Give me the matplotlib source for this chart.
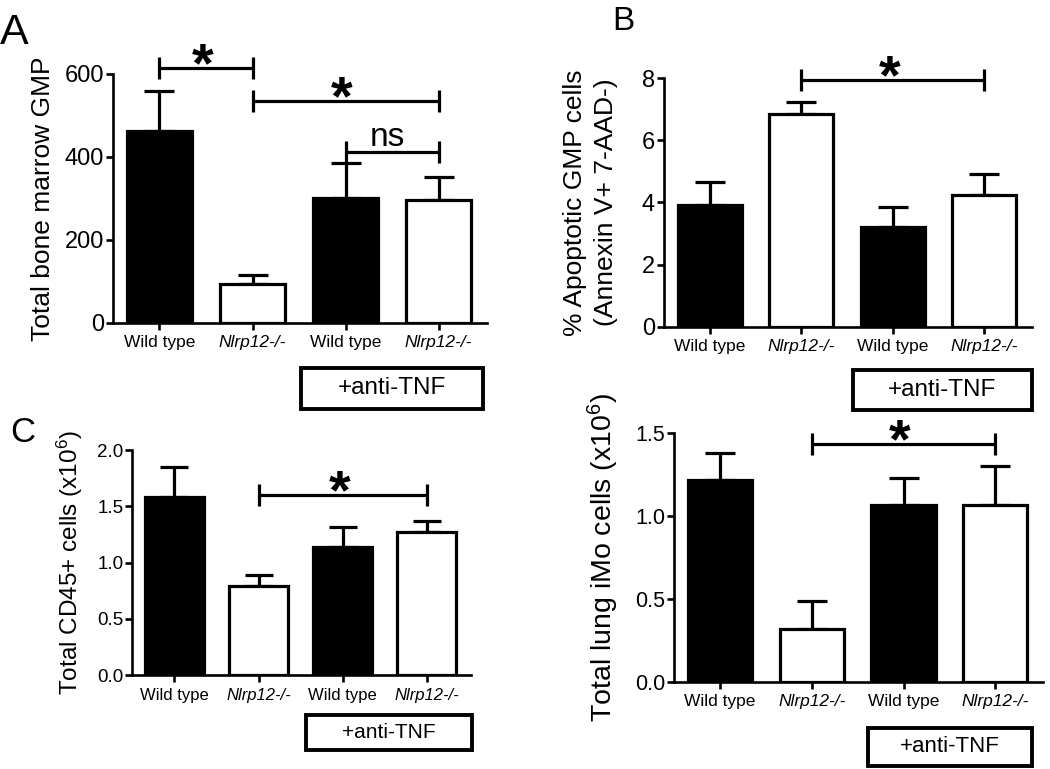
import matplotlib
matplotlib.use('Agg')
import matplotlib.pyplot as plt
from matplotlib.patches import Rectangle

plt.rcParams['font.family'] = ['Liberation Sans', 'DejaVu Sans']
plt.rcParams['mathtext.default'] = 'regular'

# Data
groups = ['Wild type', 'Nlrp12-/-', 'Wild type', 'Nlrp12-/-']
fills = ['black', 'white', 'black', 'white']

gmp_mean = [463, 94, 300, 296]
gmp_err = [97, 21, 85, 56]

apop_mean = [3.92, 6.84, 3.22, 4.24]
apop_err = [0.75, 0.39, 0.64, 0.67]

cd45_mean = [1.58, 0.79, 1.14, 1.27]
cd45_err = [0.27, 0.10, 0.18, 0.10]

imo_mean = [1.22, 0.32, 1.07, 1.07]
imo_err = [0.16, 0.17, 0.16, 0.23]

# significance brackets: (from, to, height, label)
gmp_sig = [(0, 1, 615, '*'), (1, 3, 535, '*'), (2, 3, 412, 'ns')]
apop_sig = [(1, 3, 7.94, '*')]
cd45_sig = [(1, 3, 1.60, '*')]
imo_sig = [(1, 3, 1.435, '*')]

fig = plt.figure(figsize=(10.5, 7.69), dpi=100)


def panel(rect, means, errs, ylim, yticks, yticklabels, ylabel, sig,
          tick_fs, lab_fs, xt_fs, labelpad, capsize=11, linespacing=1.2):
    ax = fig.add_axes(rect)
    x = list(range(len(means)))
    ax.errorbar(x, means, yerr=[[0] * len(errs), errs], fmt='none',
                ecolor='black', elinewidth=2.3, capsize=capsize, capthick=2.3,
                zorder=1)
    ax.bar(x, means, width=0.7, color=fills, edgecolor='black', linewidth=2.3,
           zorder=2)
    ax.set_xlim(-0.5, 3.52)
    ax.set_ylim(*ylim)
    ax.set_yticks(yticks)
    ax.set_yticklabels(yticklabels, fontsize=tick_fs)
    ax.set_xticks(x)
    ax.set_xticklabels(groups, fontsize=xt_fs)
    for lbl in ax.get_xticklabels():
        if lbl.get_text().startswith('Nlrp'):
            lbl.set_fontstyle('italic')
    ax.set_ylabel(ylabel, fontsize=lab_fs, labelpad=labelpad,
                  linespacing=linespacing)
    for s in ['top', 'right']:
        ax.spines[s].set_visible(False)
    for s in ['left', 'bottom']:
        ax.spines[s].set_linewidth(1.9)
    ax.tick_params(direction='out', length=5, width=1.9)
    ax.tick_params(axis='y', pad=1.5)
    ax.tick_params(axis='x', pad=4)

    for a, b, h, txt in sig:
        ax.plot([a, b], [h, h], color='black', lw=2.3, clip_on=False,
                solid_capstyle='butt')
        ax.plot([a, b], [h, h], ls='none', marker='|', ms=16, mew=2.3,
                color='black', clip_on=False)
        if txt == '*':
            ax.annotate('*', xy=((a + b) / 2 - 0.04, h), xytext=(0, -9.5),
                        textcoords='offset points', ha='center', va='baseline',
                        fontsize=40, fontweight='bold', annotation_clip=False)
        else:
            ax.annotate(txt, xy=((a + b) / 2 - 0.05, h), xytext=(0, 4.5),
                        textcoords='offset points', ha='center', va='baseline',
                        fontsize=24, annotation_clip=False)
    return ax


panel([0.1076, 0.580, 0.3562, 0.3238], gmp_mean, gmp_err, (0, 600),
      [0, 200, 400, 600], ['0', '200', '400', '600'],
      'Total bone marrow GMP', gmp_sig, 17, 19, 12.5, 7)

panel([0.6324, 0.5752, 0.3505, 0.3230], apop_mean, apop_err, (0, 8),
      [0, 2, 4, 6, 8], ['0', '2', '4', '6', '8'],
      '% Apoptotic GMP cells\n(Annexin V+ 7-AAD-)', apop_sig, 17, 19, 12.5,
      17, linespacing=1.35)

panel([0.126, 0.1222, 0.3223, 0.2926], cd45_mean, cd45_err, (0, 2.0),
      [0, 0.5, 1.0, 1.5, 2.0], ['0.0', '0.5', '1.0', '1.5', '2.0'],
      r'Total CD45+ cells (x10$^{6}$)', cd45_sig, 13.5, 17.5, 12, 9,
      capsize=10)

panel([0.6422, 0.1135, 0.3511, 0.323], imo_mean, imo_err, (0, 1.5),
      [0, 0.5, 1.0, 1.5], ['0.0', '0.5', '1.0', '1.5'],
      r'Total lung iMo cells (x10$^{6}$)', imo_sig, 15.5, 20.5, 12.5, 10)

# "+anti-TNF" boxes (pixel boxes: x0, y0, x1, y1 from top-left)
W, H = 1050, 769
boxes = [(301, 368, 483, 409, 17.5), (853, 370, 1032, 410, 17.5),
         (306, 715, 472, 750, 15), (868, 728, 1032, 766, 16)]
for x0, y0, x1, y1, fs in boxes:
    fig.add_artist(Rectangle((x0 / W, 1 - y1 / H), (x1 - x0) / W, (y1 - y0) / H,
                             transform=fig.transFigure, fill=False,
                             edgecolor='black', linewidth=2.8))
    fig.text((x0 + x1) / 2 / W, 1 - (y0 + y1) / 2 / H, '+anti-TNF',
             ha='center', va='center', fontsize=fs)

# panel letters
fig.text(0 / W, 1 - 44 / H, 'A', fontsize=31, va='baseline')
fig.text(612 / W, 1 - 30 / H, 'B', fontsize=24, va='baseline')
fig.text(10 / W, 1 - 442 / H, 'C', fontsize=25, va='baseline')

fig.savefig('out.png', dpi=100)
